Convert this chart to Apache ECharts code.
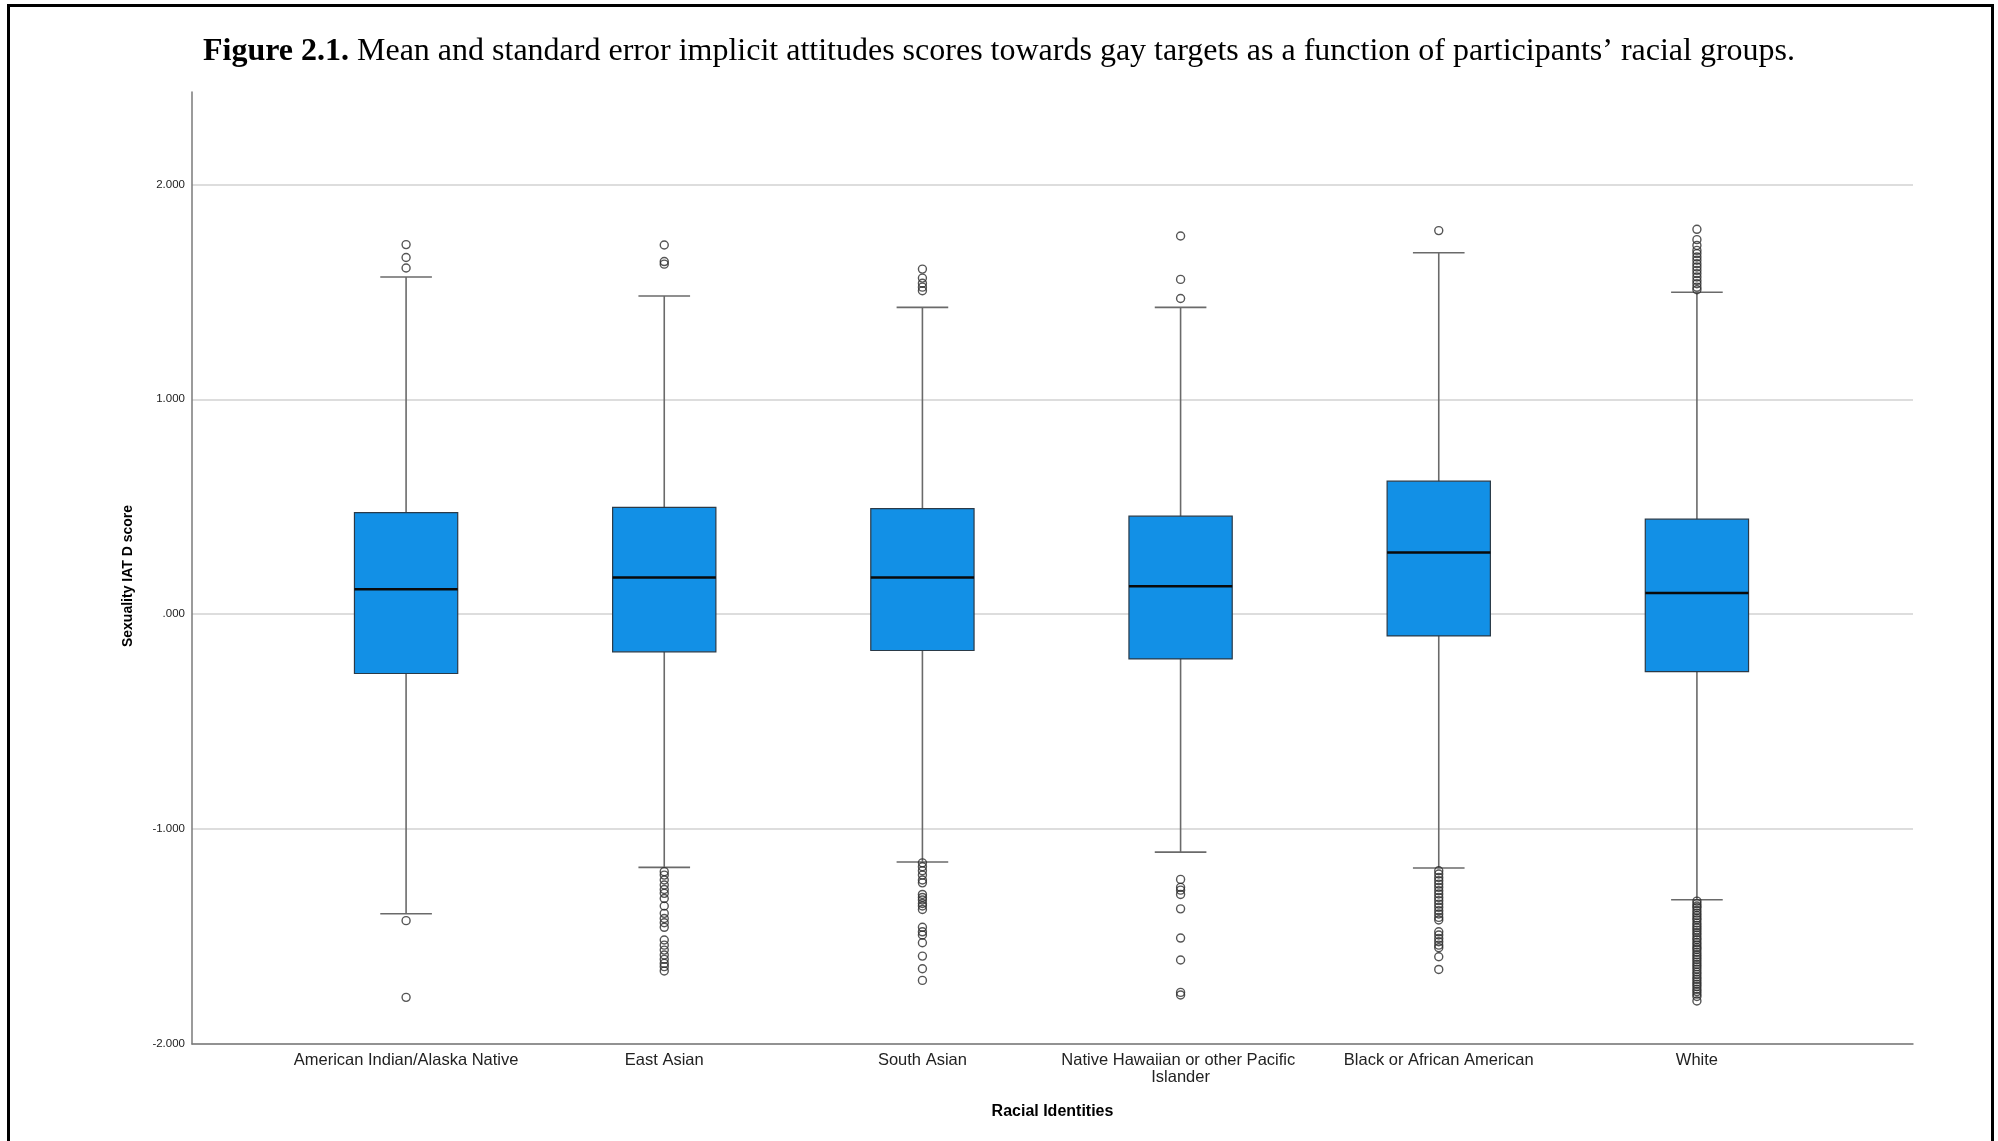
<!DOCTYPE html>
<html>
<head>
<meta charset="utf-8">
<title>Sexuality IAT D score by racial identity</title>
<script src="https://cdn.jsdelivr.net/npm/echarts@6/dist/echarts.min.js"></script>
<style>
  html, body { margin: 0; padding: 0; background: #ffffff; }
  #chart { width: 1998px; height: 1141px; }
</style>
</head>
<body>
<div id="chart"></div>
<script>
// Racial groups on the category axis
const categories = [
  'American Indian/Alaska Native',
  'East Asian',
  'South Asian',
  'Native Hawaiian or other Pacific Islander',
  'Black or African American',
  'White'
];

// Five-number summaries per group: lower whisker, Q1, median, Q3, upper whisker
const lowerWhisker = [-1.394, -1.178, -1.153, -1.107, -1.181, -1.329];
const quartile1    = [-0.276, -0.175, -0.169, -0.208, -0.101, -0.267];
const medians      = [ 0.116,  0.171,  0.171,  0.130,  0.287,  0.099];
const quartile3    = [ 0.473,  0.497,  0.491,  0.456,  0.619,  0.442];
const upperWhisker = [ 1.569,  1.481,  1.428,  1.428,  1.682,  1.498];

// Outlying scores per group
const outliersAmericanIndian = [1.611, 1.660, 1.720, -1.426, -1.783];
const outliersEastAsian = [
  1.629, 1.641, 1.718,
  -1.198, -1.214, -1.237, -1.260, -1.281, -1.299, -1.323, -1.358, -1.392, -1.416,
  -1.436, -1.457, -1.516, -1.540, -1.563, -1.586, -1.606, -1.625, -1.640, -1.660
];
const outliersSouthAsian = [
  1.505, 1.522, 1.540, 1.564, 1.606,
  -1.157, -1.175, -1.194, -1.214, -1.237, -1.250, -1.304, -1.318, -1.330, -1.346,
  -1.358, -1.374, -1.457, -1.478, -1.493, -1.529, -1.591, -1.650, -1.704
];
const outliersNativeHawaiian = [
  1.469, 1.558, 1.760,
  -1.234, -1.271, -1.284, -1.304, -1.371, -1.507, -1.609, -1.760, -1.772
];
const outliersBlack = [
  1.785,
  -1.194, -1.209, -1.225, -1.240, -1.256, -1.271, -1.287, -1.302, -1.318, -1.333,
  -1.349, -1.364, -1.380, -1.395, -1.411, -1.423, -1.478, -1.493, -1.509, -1.524,
  -1.540, -1.552, -1.594, -1.653
];
const outliersWhite = [
  1.510, 1.522, 1.538, 1.553, 1.569, 1.585, 1.600, 1.616, 1.631, 1.647, 1.662,
  1.678, 1.693, 1.716, 1.743, 1.791,
  -1.335, -1.347, -1.358, -1.366, -1.379, -1.391, -1.402, -1.414, -1.423, -1.437,
  -1.448, -1.459, -1.470, -1.482, -1.493, -1.506, -1.515, -1.528, -1.539, -1.551,
  -1.560, -1.573, -1.585, -1.596, -1.607, -1.619, -1.630, -1.641, -1.652, -1.665,
  -1.676, -1.688, -1.699, -1.711, -1.722, -1.733, -1.745, -1.756, -1.768, -1.779,
  -1.800
];
const outlierGroups = [
  outliersAmericanIndian, outliersEastAsian, outliersSouthAsian,
  outliersNativeHawaiian, outliersBlack, outliersWhite
];

// Y axis range and tick step
const yMin = -2;
const yMax = 2.43;
const yStep = 1;

const boxData = categories.map((c, i) => [
  i, lowerWhisker[i], quartile1[i], medians[i], quartile3[i], upperWhisker[i]
]);
const outlierData = [];
outlierGroups.forEach((vals, i) => vals.forEach(v => outlierData.push([i, v])));

const BOX_FILL = '#1290e6';

function renderBox(params, api) {
  const idx = api.value(0);
  const low = api.coord([idx, api.value(1)]);
  const q1 = api.coord([idx, api.value(2)]);
  const med = api.coord([idx, api.value(3)]);
  const q3 = api.coord([idx, api.value(4)]);
  const high = api.coord([idx, api.value(5)]);
  const band = api.size([1, 0])[0];
  const boxW = band * 0.4;
  const capW = band * 0.2;
  const x = low[0];
  const whiskerStyle = { stroke: '#6a6a6a', lineWidth: 1.6 };
  return {
    type: 'group',
    children: [
      { type: 'line', shape: { x1: x, y1: high[1], x2: x, y2: q3[1] }, style: whiskerStyle },
      { type: 'line', shape: { x1: x, y1: q1[1], x2: x, y2: low[1] }, style: whiskerStyle },
      { type: 'line', shape: { x1: x - capW / 2, y1: high[1], x2: x + capW / 2, y2: high[1] }, style: whiskerStyle },
      { type: 'line', shape: { x1: x - capW / 2, y1: low[1], x2: x + capW / 2, y2: low[1] }, style: whiskerStyle },
      {
        type: 'rect',
        shape: { x: x - boxW / 2, y: q3[1], width: boxW, height: q1[1] - q3[1] },
        style: { fill: BOX_FILL, stroke: '#2a3a48', lineWidth: 1.2 }
      },
      {
        type: 'line',
        shape: { x1: x - boxW / 2, y1: med[1], x2: x + boxW / 2, y2: med[1] },
        style: { stroke: '#0a0a0a', lineWidth: 2.6 }
      }
    ]
  };
}

const tickFormat = v => (v === 0 ? '.000' : v.toFixed(3));

const chart = echarts.init(document.getElementById('chart'), null, { renderer: 'canvas' });

chart.setOption({
  backgroundColor: '#ffffff',
  animation: false,
  title: {
    left: 'center',
    top: 31,
    text: '{b|Figure 2.1.} Mean and standard error implicit attitudes scores towards gay targets as a function of participants\u2019 racial groups.',
    textStyle: {
      fontFamily: 'Liberation Serif',
      fontSize: 32,
      fontWeight: 'normal',
      color: '#000000',
      rich: {
        b: { fontFamily: 'Liberation Serif', fontSize: 32, fontWeight: 'bold', color: '#000000' }
      }
    }
  },
  graphic: [
    {
      type: 'rect',
      silent: true,
      shape: { x: 8.5, y: 5.5, width: 1984, height: 1200 },
      style: { fill: 'none', stroke: '#000000', lineWidth: 3 }
    }
  ],
  grid: [
    // frame grid: axis lines, gridlines and y ticks
    { left: 192, right: 85, top: 92, bottom: 97 },
    // box grid: categories spaced across the inner width
    { left: 277, right: 172, top: 92, bottom: 97 }
  ],
  xAxis: [
    {
      gridIndex: 0,
      type: 'value',
      min: 0,
      max: 1,
      axisLine: { show: true, onZero: false, lineStyle: { color: '#7a7a7a', width: 1.5 } },
      axisTick: { show: false },
      axisLabel: { show: false },
      splitLine: { show: false },
      name: 'Racial Identities',
      nameLocation: 'middle',
      nameGap: 60,
      nameTextStyle: {
        fontFamily: 'Liberation Sans',
        fontSize: 16,
        fontWeight: 'bold',
        color: '#000000'
      }
    },
    {
      gridIndex: 1,
      type: 'category',
      data: categories,
      boundaryGap: true,
      axisLine: { show: false },
      axisTick: { show: false },
      splitLine: { show: false },
      axisLabel: {
        interval: 0,
        margin: 8,
        fontFamily: 'Liberation Sans',
        fontSize: 16.5,
        lineHeight: 17,
        color: '#222222',
        width: 255,
        overflow: 'break'
      }
    }
  ],
  yAxis: [
    {
      gridIndex: 0,
      type: 'value',
      min: yMin,
      max: yMax,
      interval: yStep,
      axisLine: { show: true, lineStyle: { color: '#7a7a7a', width: 1.5 } },
      axisTick: { show: false },
      axisLabel: {
        margin: 7,
        showMaxLabel: false,
        fontFamily: 'Liberation Sans',
        fontSize: 11.5,
        color: '#222222',
        formatter: tickFormat
      },
      splitLine: { show: true, showMaxLine: false, lineStyle: { color: '#d2d2d2', width: 1.5 } },
      name: 'Sexuality IAT D score',
      nameLocation: 'middle',
      nameGap: 57,
      nameRotate: 90,
      nameTextStyle: {
        fontFamily: 'Liberation Sans',
        fontSize: 14,
        fontWeight: 'bold',
        color: '#000000',
        padding: [0, 16, 0, 0]
      }
    },
    {
      gridIndex: 1,
      type: 'value',
      min: yMin,
      max: yMax,
      interval: yStep,
      show: false
    }
  ],
  series: [
    {
      type: 'custom',
      name: 'boxes',
      xAxisIndex: 1,
      yAxisIndex: 1,
      renderItem: renderBox,
      encode: { x: 0, y: [1, 2, 3, 4, 5] },
      data: boxData,
      z: 2
    },
    {
      type: 'scatter',
      name: 'outliers',
      xAxisIndex: 1,
      yAxisIndex: 1,
      symbol: 'circle',
      symbolSize: 8,
      itemStyle: { color: 'rgba(255,255,255,0)', borderColor: '#2b2b2b', borderWidth: 1.4 },
      data: outlierData,
      z: 3
    }
  ]
});
</script>
</body>
</html>
